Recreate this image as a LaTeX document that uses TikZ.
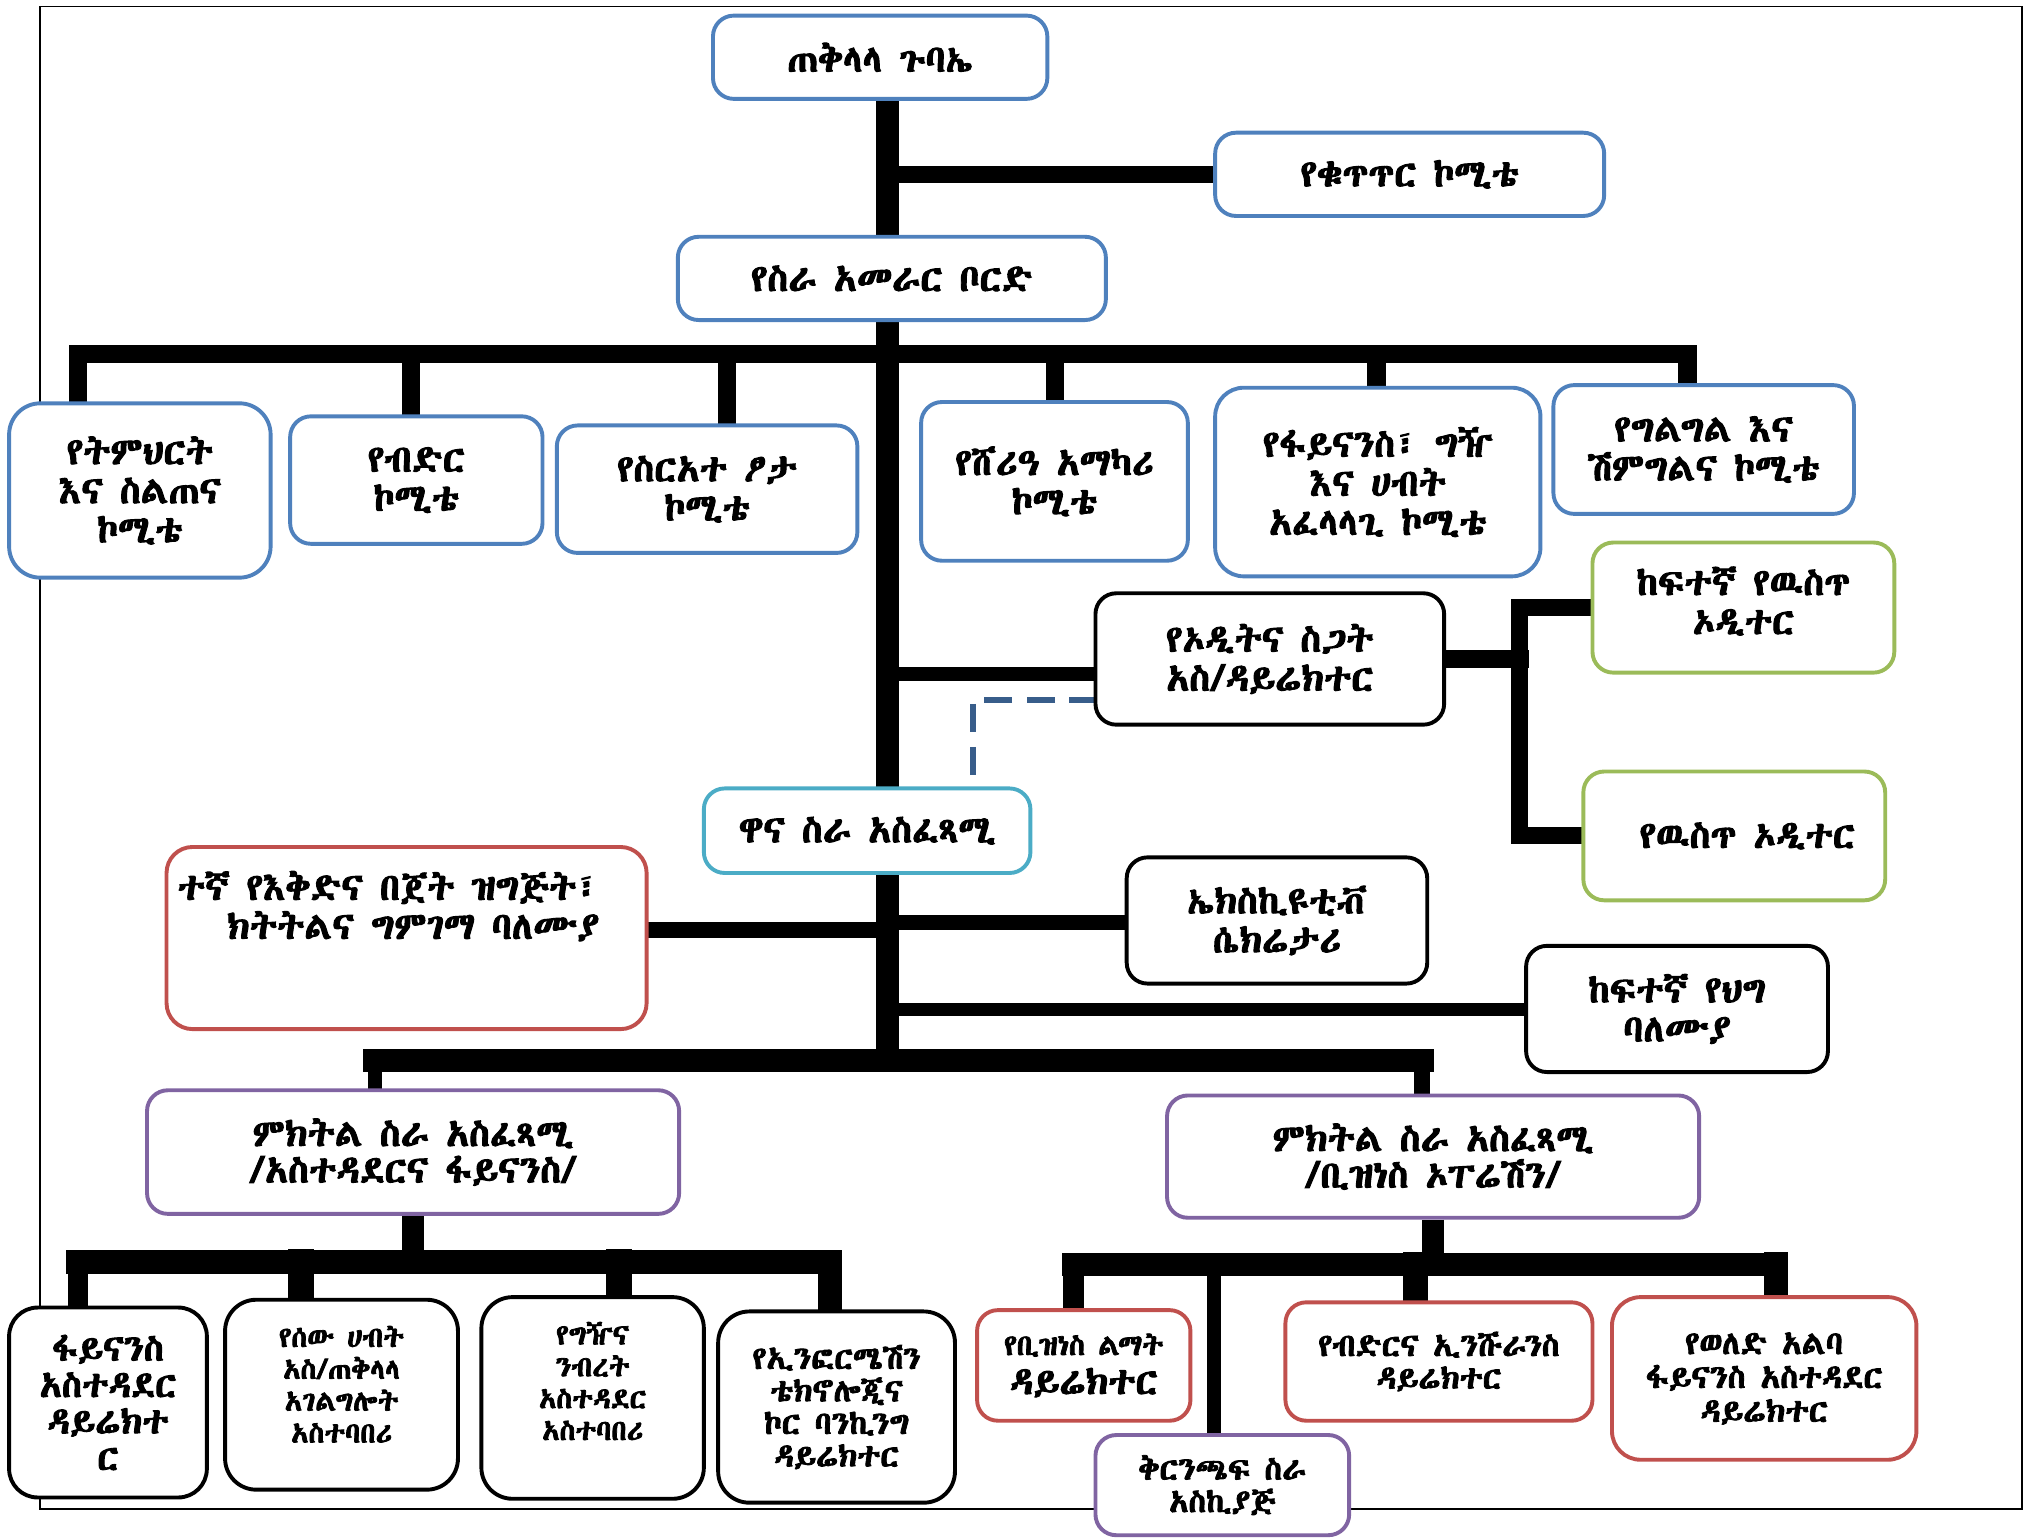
\documentclass[tikz,border=0pt]{standalone}
\usepackage{fontspec}
\usetikzlibrary{backgrounds}
\newfontfamily\eth[FakeBold=2.6]{Abyssinica SIL}
\definecolor{cblue}{HTML}{4F81BD}
\definecolor{cgreen}{HTML}{9BBB59}
\definecolor{cred}{HTML}{C0504D}
\definecolor{cpurple}{HTML}{8064A2}
\definecolor{ccyan}{HTML}{4BACC6}
\definecolor{cdash}{HTML}{385D8A}
\tikzset{
 bx/.style={draw, fill=white, rounded corners=16pt, line width=3pt, align=center, inner sep=2pt, font=\eth\fontsize{29}{30}\selectfont},
 bl/.style={bx, draw=cblue},
 gr/.style={bx, draw=cgreen},
 rd/.style={bx, draw=cred},
 pu/.style={bx, draw=cpurple},
 cy/.style={bx, draw=ccyan},
 bk/.style={bx, draw=black},
 fsa/.style={font=\eth\fontsize{22}{24.5}\selectfont},
 fsb/.style={font=\eth\fontsize{24.5}{25}\selectfont},
 sz/.style 2 args={minimum width=#1pt, minimum height=#2pt},
 wire/.style={line width=#1, draw=black, line cap=rect, line join=miter},
 dashline/.style={draw=cdash, line width=4.5pt, dash pattern=on 22pt off 11pt},
}
\begin{document}
\begin{tikzpicture}[x=1pt,y=-1pt]
\useasboundingbox (0,0) rectangle (1568,1182);
% ---- boxes
\node[bl, sz={257}{64}] (ga) at (676.5,44) {ጠቅላላ ጉባኤ};
\node[bl, sz={299}{64}] (ctrl) at (1083.5,134) {የቁጥጥር ኮሚቴ};
\node[bl, sz={329}{64}] (board) at (685.5,214) {የስራ አመራር ቦርድ};
\node[bl, sz={201}{134}, rounded corners=24pt] (edu) at (107.5,377) {የትምህርት\\እና ስልጠና\\ኮሚቴ};
\node[bl, sz={194}{98}] (loan) at (320,369) {የብድር\\ኮሚቴ};
\node[bl, sz={231}{98}] (rules) at (543.5,376) {የስርአተ ፆታ\\ኮሚቴ};
\node[bl, sz={205}{122}] (sharia) at (810.5,370) {የሸሪዓ አማካሪ\\ኮሚቴ};
\node[bl, sz={250}{145}, rounded corners=22pt] (fin) at (1059,370.5) {የፋይናንስ፣ ግዥ\\እና ሀብት\\አፈላላጊ ኮሚቴ};
\node[bl, sz={231}{99}] (compl) at (1309.5,345.5) {የግልግል እና\\ሽምግልና ኮሚቴ};
\node[bk, sz={268}{101}] (audit) at (976,506.5) {የኦዲትና ስጋት\\አስ/ዳይሬክተር};
\node[gr, sz={232}{100}, label={[bx,draw=none,fill=none,yshift=5pt]center:ከፍተኛ የዉስጥ\\ኦዲተር}] (g1) at (1340,467) {};
\node[gr, sz={232}{99}, label={[bx,draw=none,fill=none,xshift=10pt]center:የዉስጥ ኦዲተር}] (g2) at (1333,642.5) {};
\node[cy, sz={251}{65}] (ceo) at (666.5,638.5) {ዋና ስራ አስፈጻሚ};
\node[rd, sz={369}{140}, rounded corners=20pt] (red) at (312.5,721) {};
\node[bx, draw=none, fill=none, align=left, anchor=north west, inner sep=0pt] (redt) at (135,668) {ተኛ የእቅድና በጀት ዝግጅት፣\\\hspace*{38pt}ክትትልና ግምገማ ባለሙያ};
\node[bk, sz={231}{97}] (exec) at (981.5,707.5) {ኤክስኪዩቲቭ\\ሴክሬታሪ};
\node[bk, sz={232}{97}] (legal) at (1289,775.5) {ከፍተኛ የህግ\\ባለሙያ};
\node[pu, sz={409}{95}, font=\eth\fontsize{29}{28}\selectfont] (dep1) at (317.5,885.5) {ምክትል ስራ አስፈጻሚ\\/አስተዳደርና ፋይናንስ/};
\node[pu, sz={409}{94}, font=\eth\fontsize{29}{28}\selectfont] (dep2) at (1101.5,889) {ምክትል ስራ አስፈጻሚ\\/ቢዝነስ ኦፐሬሽን/};
\node[bk, sz={152}{146}, rounded corners=22pt, font=\eth\fontsize{28}{28}\selectfont] (h1) at (83,1078) {ፋይናንስ\\አስተዳደር\\ዳይሬክተ\\ር};
\node[bk, sz={179}{146}, rounded corners=24pt, label={[bx,fsa,draw=none,fill=none,yshift=8pt]center:የሰው ሀብት\\አስ/ጠቅላላ\\አገልግሎት\\አስተባበሪ}] (h2) at (262.5,1072) {};
\node[bk, sz={171}{155}, rounded corners=24pt, label={[bx,fsa,draw=none,fill=none,yshift=13pt]center:የግዥና\\ንብረት\\አስተዳደር\\አስተባበሪ}] (h3) at (455.5,1074.5) {};
\node[bk, sz={182}{147}, rounded corners=24pt, fsb] (h4) at (643,1081.5) {የኢንፎርሜሽን\\ቴክኖሎጂና\\ኮር ባንኪንግ\\ዳይሬክተር};
\node[rd, sz={164}{85}] (i1) at (833,1049.5) {{\fontsize{22.5}{28}\selectfont የቢዝነስ ልማት}\\ዳይሬክተር};
\node[rd, sz={236}{91}, fsb] (i2) at (1106,1046.5) {የብድርና ኢንሹራንስ\\ዳይሬክተር};
\node[rd, sz={234}{125}, rounded corners=22pt, font=\eth\fontsize{25}{26}\selectfont] (i3) at (1356,1059.5) {የወለድ አልባ\\ፋይናንስ አስተዳደር\\ዳይሬክተር};
\node[pu, sz={195}{77}, fsb] (br) at (939.5,1141.5) {ቅርንጫፍ ስራ\\አስኪያጅ};
% ---- connectors
\coordinate (tx) at (682,0);
\coordinate (cb1) at (60,272);
\coordinate (cb2) at (316,272);
\coordinate (cb3) at (559,272);
\coordinate (cb4) at (811,272);
\coordinate (cb5) at (1058,272);
\coordinate (cb6) at (1297,272);
\coordinate (ja) at (682,518);
\coordinate (av) at (1168,0);
\coordinate (dk) at (748,538);
\coordinate (jr) at (682,715);
\coordinate (je) at (682,709);
\coordinate (jl) at (682,776);
\coordinate (bb1) at (288,815);
\coordinate (bb2) at (1093,815);
\coordinate (d1a) at (60,970);
\coordinate (d1b) at (231,970);
\coordinate (d1c) at (476,970);
\coordinate (d1d) at (638,970);
\coordinate (d2a) at (825,972);
\coordinate (d2b) at (933,972);
\coordinate (d2c) at (1088,972);
\coordinate (d2d) at (1365,972);
\begin{pgfonlayer}{background}
\draw[line width=1.4pt] (31,5) rectangle (1554,1160);
% trunk
\draw[wire=18pt, line cap=butt] (tx |- ga.center) -- (tx |- bb1);
\draw[wire=13pt] (tx |- ctrl) -- (ctrl);
% committees
\draw[wire=14pt] (cb1) -- (cb6);
\draw[wire=14pt] (cb1) -- (cb1 |- edu.center);
\draw[wire=14pt] (cb2) -- (cb2 |- loan.center);
\draw[wire=14pt] (cb3) -- (cb3 |- rules.center);
\draw[wire=14pt] (cb4) -- (cb4 |- sharia.center);
\draw[wire=14pt] (cb5) -- (cb5 |- fin.center);
\draw[wire=14pt] (cb6) -- (cb6 |- compl.center);
% audit
\draw[wire=11pt] (ja) -- (ja -| audit.center);
\draw[wire=14pt] (audit) -- (audit -| av);
\draw[wire=13pt] (g1) -- (av |- g1) -- (av |- g2) -- (g2);
\draw[dashline] (dk -| audit.center) -- (dk) -- (dk |- ceo.north);
% staff
\draw[wire=12pt, line cap=butt] (jr) -- (jr -| red.center);
\draw[wire=11pt, line cap=butt] (je) -- (je -| exec.center);
\draw[wire=10pt, line cap=butt] (jl) -- (jl -| legal.center);
% deputies
\draw[wire=18pt] (bb1) -- (bb2);
\draw[wire=11pt, line cap=butt] (bb1) -- (bb1 |- dep1.center);
\draw[wire=12pt, line cap=butt] (bb2) -- (bb2 |- dep2.center);
\draw[wire=17pt, line cap=butt] (dep1) -- (dep1 |- d1a);
\draw[wire=18pt] (d1a) -- (d1d);
\draw[wire=15pt] (d1a) -- (d1a |- h1.center);
\draw[wire=20pt] (d1b) -- (d1b |- h2.center);
\draw[wire=20pt] (d1c) -- (d1c |- h3.center);
\draw[wire=19pt] (d1d) -- (d1d |- h4.center);
\draw[wire=17pt, line cap=butt] (dep2) -- (dep2 |- d2a);
\draw[wire=18pt] (d2a) -- (d2d);
\draw[wire=16pt] (d2a) -- (d2a |- i1.center);
\draw[wire=11pt] (d2b) -- (d2b |- br.center);
\draw[wire=19pt] (d2c) -- (d2c |- i2.center);
\draw[wire=19pt] (d2d) -- (d2d |- i3.center);
\end{pgfonlayer}
\end{tikzpicture}
\end{document}
